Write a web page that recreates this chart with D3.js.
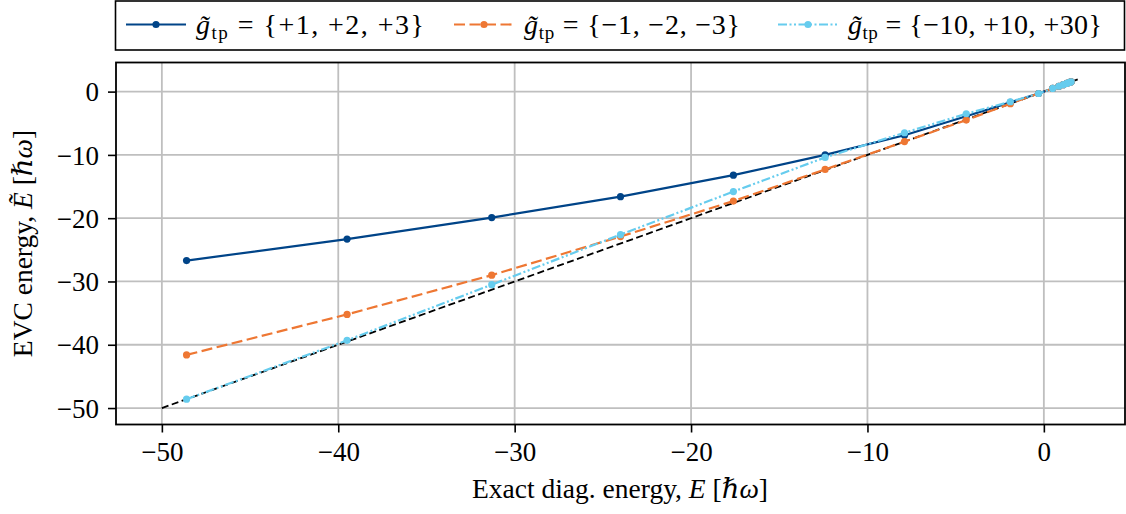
<!DOCTYPE html>
<html>
<head>
<meta charset="utf-8">
<script src="https://cdn.jsdelivr.net/npm/d3@7/dist/d3.min.js"></script>
<style>
  html, body { margin: 0; padding: 0; background: #fff; }
  svg text { font-family: "Liberation Serif", "DejaVu Serif", serif; fill: #000; }
</style>
</head>
<body>
<svg id="chart" width="1126" height="514"></svg>
<script>
// Exact diagonalisation energies (shared x values for every series)
const exactEnergy = [-48.6, -39.5, -31.3, -24.0, -17.6, -12.4, -7.9, -4.4, -1.9, -0.3, 0.5, 0.85, 1.1, 1.3, 1.45, 1.55];
// EVC energies for the three training-point sets
const evcPlus   = [-26.7, -23.3, -19.9, -16.6, -13.2, -10.0, -6.9, -3.9, -1.7, -0.3, 0.5, 0.85, 1.1, 1.3, 1.45, 1.55];
const evcMinus  = [-41.6, -35.2, -29.0, -22.9, -17.3, -12.3, -7.9, -4.5, -1.9, -0.3, 0.5, 0.85, 1.1, 1.3, 1.45, 1.55];
const evcWide   = [-48.6, -39.3, -30.5, -22.6, -15.8, -10.4, -6.5, -3.5, -1.6, -0.3, 0.5, 0.85, 1.1, 1.3, 1.45, 1.55];
// Reference diagonal E~ = E
const diagonal  = [-50, 2];
const xTicks = [-50, -40, -30, -20, -10, 0];
const yTicks = [0, -10, -20, -30, -40, -50];
const seriesLabels = [
  ["+1", "+2", "+3"],
  ["\u22121", "\u22122", "\u22123"],
  ["\u221210", "+10", "+30"]
];

const svg = d3.select("#chart");
const plot = { left: 116, right: 1125, top: 62.5, bottom: 424.5 };

const x = d3.scaleLinear().domain([-52.6, 4.6]).range([plot.left, plot.right]);
const y = d3.scaleLinear().domain([-52.6, 4.6]).range([plot.bottom, plot.top]);

const fmt = d => (d < 0 ? "\u2212" + Math.abs(d) : String(d));

// grid
const grid = svg.append("g");
grid.selectAll("line.vx").data(xTicks).join("line")
  .attr("x1", d => x(d)).attr("x2", d => x(d))
  .attr("y1", plot.top).attr("y2", plot.bottom)
  .attr("stroke", "#bfbfbf").attr("stroke-width", 1.8);
grid.selectAll("line.hy").data(yTicks).join("line")
  .attr("y1", d => y(d)).attr("y2", d => y(d))
  .attr("x1", plot.left).attr("x2", plot.right)
  .attr("stroke", "#bfbfbf").attr("stroke-width", 1.8);

// axes
const xAxis = d3.axisBottom(x).tickValues(xTicks).tickFormat(fmt).tickSize(8).tickPadding(8);
const yAxis = d3.axisLeft(y).tickValues(yTicks).tickFormat(fmt).tickSize(8).tickPadding(9);

const gx = svg.append("g").attr("transform", `translate(0,${plot.bottom})`).call(xAxis);
const gy = svg.append("g").attr("transform", `translate(${plot.left},0)`).call(yAxis);
[gx, gy].forEach(g => {
  g.select(".domain").remove();
  g.selectAll(".tick line").attr("stroke", "#000").attr("stroke-width", 1.6);
  g.selectAll(".tick text").attr("font-size", 27);
});
gx.selectAll(".tick text").attr("dy", "0.76em");
gy.selectAll(".tick text").attr("dy", "0.34em");

// clip region for data
svg.append("clipPath").attr("id", "plotclip").append("rect")
  .attr("x", plot.left).attr("y", plot.top)
  .attr("width", plot.right - plot.left).attr("height", plot.bottom - plot.top);

const data = svg.append("g").attr("clip-path", "url(#plotclip)");
const line = d3.line().x(d => x(d[0])).y(d => y(d[1]));

// diagonal
data.append("path")
  .attr("d", line(diagonal.map(v => [v, v])))
  .attr("fill", "none").attr("stroke", "#000").attr("stroke-width", 1.8)
  .attr("stroke-dasharray", "7,3.5");

const series = [
  { vals: evcPlus,  color: "#004488", dash: null },
  { vals: evcMinus, color: "#EE7733", dash: "11,4.5" },
  { vals: evcWide,  color: "#66CCEE", dash: "9,2.5,2,2.5,2,2.5" }
];

series.forEach(s => {
  const pts = exactEnergy.map((e, i) => [e, s.vals[i]]);
  data.append("path")
    .attr("d", line(pts))
    .attr("fill", "none").attr("stroke", s.color).attr("stroke-width", 2.2)
    .attr("stroke-dasharray", s.dash);
  data.selectAll(null).data(pts).join("circle")
    .attr("cx", d => x(d[0])).attr("cy", d => y(d[1]))
    .attr("r", 3.6).attr("fill", s.color);
});

// frame
svg.append("rect")
  .attr("x", plot.left).attr("y", plot.top)
  .attr("width", plot.right - plot.left).attr("height", plot.bottom - plot.top)
  .attr("fill", "none").attr("stroke", "#000").attr("stroke-width", 1.8);

// axis labels
const xl = svg.append("text")
  .attr("x", 620).attr("y", 498)
  .attr("text-anchor", "middle").attr("font-size", 27.5);
xl.append("tspan").text("Exact diag. energy, ");
xl.append("tspan").attr("font-style", "italic").text("E");
xl.append("tspan").text(" [");
xl.append("tspan").attr("font-style", "italic").text("\u210F\u03C9");
xl.append("tspan").text("]");

const yl = svg.append("text")
  .attr("transform", `translate(32,${(plot.top + plot.bottom) / 2}) rotate(-90)`)
  .attr("text-anchor", "middle").attr("font-size", 27.5);
yl.append("tspan").text("EVC energy, ");
yl.append("tspan").attr("font-style", "italic").text("E\u0303");
yl.append("tspan").text(" [");
yl.append("tspan").attr("font-style", "italic").text("\u210F\u03C9");
yl.append("tspan").text("]");

// legend
const legend = svg.append("g");
legend.append("rect")
  .attr("x", 115.5).attr("y", 1).attr("width", 1009).attr("height", 49)
  .attr("fill", "#fff").attr("stroke", "#000").attr("stroke-width", 1.6);

const legendX = [126, 454, 778];
const legendW = [228, 216, 254];
const ly = 24.5;
series.forEach((s, i) => {
  const g = legend.append("g");
  g.append("line")
    .attr("x1", legendX[i]).attr("x2", legendX[i] + 60)
    .attr("y1", ly).attr("y2", ly)
    .attr("stroke", s.color).attr("stroke-width", 2.2)
    .attr("stroke-dasharray", s.dash);
  g.append("circle").attr("cx", legendX[i] + 30).attr("cy", ly).attr("r", 3.6).attr("fill", s.color);
  const t = g.append("text")
    .attr("x", legendX[i] + 70).attr("y", 34)
    .attr("font-size", 28);
  t.append("tspan").attr("font-style", "italic").text("g\u0303");
  t.append("tspan").attr("font-size", 19).attr("dy", 5).text("tp");
  t.append("tspan").attr("dy", -5).text(" = {" + seriesLabels[i].join(", ") + "}");
  // stretch the spacing only if the label falls short of its slot
  const natural = t.node().getComputedTextLength();
  if (natural < legendW[i]) {
    t.attr("textLength", legendW[i]).attr("lengthAdjust", "spacing");
  }
});
</script>
</body>
</html>
